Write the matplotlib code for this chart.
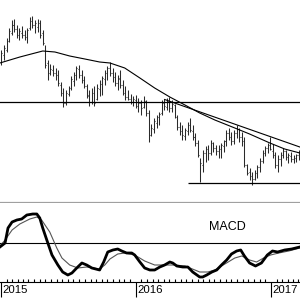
import matplotlib
matplotlib.use("Agg")
import matplotlib.pyplot as plt
import matplotlib.dates as mdates
import matplotlib.transforms as mtransforms
import pandas as pd

plt.rcParams['font.family'] = ['Liberation Sans', 'DejaVu Sans']

# ---------------- data ----------------
bar_start = "2015-01-02"   # weekly bars (Fridays)
highs = [153,158,165,175,183,184,178,175,177,173,175,186,187,183,184,183,173,158,143,139,
         138,135,133,121,115,113,117,127,131,137,138,133,127,119,113,115,117,119,123,127,
         133,137,141,135,131,128,133,123,117,113,109,107,108,105,103,107,103,93,79,85,
         88,91,103,104,105,106,103,99,88,81,78,75,81,85,78,70,63,45,53,57,
         58,63,61,58,58,60,63,73,75,71,73,78,75,71,66,39,35,31,33,38,
         45,53,57,60,66,59,51,48,51,55,53,50,51,48,49,53]
lows = [138,143,151,161,168,171,165,163,165,163,160,173,175,170,171,165,158,135,123,128,
        127,123,117,107,96,98,107,113,117,123,125,120,115,105,97,99,97,103,107,108,
        118,123,127,121,117,113,115,108,103,103,99,97,95,91,88,95,87,61,67,70,
        75,78,88,93,93,91,91,85,73,68,63,63,68,71,63,57,46,21,31,41,
        43,48,51,48,45,45,51,57,63,58,59,65,61,57,36,28,23,18,23,25,
        31,40,47,50,53,45,35,31,37,45,43,40,41,40,41,43]
opens = [140,148,153,162,170,178,174,168,170,168,166,175,182,178,176,180,170,156,140,131,
         133,130,128,118,111,100,109,115,122,128,134,128,123,117,107,101,110,104,114,119,
         124,130,135,130,126,120,124,118,110,106,104,101,103,97,100,96,102,90,70,74,
         80,86,90,100,96,102,95,98,86,76,72,67,72,78,72,66,60,44,38,50,
         54,50,59,55,52,54,57,62,70,66,62,70,74,66,62,38,31,27,24,30,
         36,42,50,55,58,52,47,38,44,48,52,46,47,44,45,48]
closes = [150,155,163,172,178,174,168,172,168,170,173,182,178,180,181,168,160,138,130,134,
          130,127,120,110,100,110,115,124,128,135,128,123,117,108,101,110,100,115,120,125,
          130,135,130,125,120,125,118,110,106,104,101,104,97,100,95,104,90,68,75,82,
          86,89,100,97,102,95,99,88,76,72,68,73,78,73,66,60,48,40,50,54,
          50,60,55,52,55,58,62,70,66,62,70,75,66,62,38,30,28,24,30,36,
          42,50,55,58,54,48,38,44,49,52,46,48,44,46,48,50]

ma_dates = ["2014-12-29","2015-02-21","2015-04-24","2015-05-27","2015-07-06","2015-08-16",
            "2015-09-25","2015-10-23","2015-12-02","2016-01-12","2016-02-21","2016-04-02",
            "2016-05-13","2016-06-22","2016-08-02","2016-09-25","2016-11-04","2016-12-29",
            "2017-02-07","2017-03-20"]
ma_values = [140,146,152,151,147,144,141,140,135,125,115,106,98,90,83,75,69,60,54,50]

trend_dates = ["2016-03-19", "2017-03-20"]
trend_values = [103.5, 56]

resistance_level = 101
support_level = 20.5
support_start = "2016-05-21"

macd_dates = ["2014-12-29","2015-01-12","2015-01-20","2015-01-31","2015-02-13","2015-02-26",
              "2015-03-12","2015-03-28","2015-04-08","2015-04-16","2015-04-24","2015-05-05",
              "2015-05-19","2015-06-04","2015-06-17","2015-07-01","2015-07-12","2015-07-25",
              "2015-08-08","2015-08-21","2015-09-04","2015-09-25","2015-10-06","2015-10-17",
              "2015-10-31","2015-11-13","2015-11-24","2015-12-07","2015-12-21","2015-12-29",
              "2016-01-12","2016-01-25","2016-02-08","2016-02-21","2016-03-06","2016-03-19",
              "2016-04-02","2016-04-10","2016-04-21","2016-05-07","2016-05-21","2016-06-03",
              "2016-06-22","2016-06-30","2016-07-11","2016-07-25","2016-08-07","2016-08-20",
              "2016-09-03","2016-09-16","2016-09-30","2016-10-11","2016-10-21","2016-11-04",
              "2016-11-20","2016-12-06","2016-12-22","2017-01-05","2017-01-19","2017-02-07",
              "2017-02-26","2017-03-20"]
macd_values = [-0.4,0.0,1.5,2.1,2.3,2.4,2.8,2.9,2.9,2.5,1.5,0.3,
               -1.2,-2.2,-2.9,-3.2,-3.0,-2.5,-2.0,-2.2,-2.5,-2.7,-1.9,-0.9,
               -0.7,-0.6,-0.8,-1.0,-1.0,-1.2,-1.9,-2.5,-2.7,-2.7,-2.4,-2.2,
               -1.9,-2.0,-2.3,-2.4,-2.4,-2.9,-3.4,-3.4,-3.2,-2.9,-2.7,-2.2,
               -1.7,-1.1,-0.8,-0.7,-1.3,-2.0,-2.3,-2.0,-1.2,-0.8,-0.9,-0.7,
               -0.6,-0.4]

signal_dates = ["2014-12-29","2015-01-12","2015-01-31","2015-02-21","2015-03-20","2015-04-08",
                "2015-04-21","2015-05-13","2015-06-01","2015-06-15","2015-07-06","2015-07-28",
                "2015-08-21","2015-09-25","2015-10-09","2015-10-23","2015-11-13","2015-12-02",
                "2015-12-29","2016-01-25","2016-02-21","2016-03-19","2016-04-15","2016-05-13",
                "2016-06-09","2016-06-22","2016-07-14","2016-08-02","2016-08-29","2016-09-25",
                "2016-10-14","2016-11-04","2016-11-23","2016-12-12","2016-12-31","2017-01-22",
                "2017-02-18","2017-03-20"]
signal_values = [-0.3,0.3,1.3,1.9,2.4,2.6,2.3,1.1,-0.5,-1.5,-2.2,-2.5,
                 -2.4,-2.6,-2.2,-1.6,-1.1,-1.0,-1.2,-1.8,-2.2,-2.2,-2.2,-2.3,
                 -2.7,-2.9,-2.9,-2.7,-2.1,-1.5,-1.3,-1.7,-1.9,-1.5,-1.2,-1.0,
                 -0.8,-0.5]

# ---------------- figure ----------------
fig = plt.figure(figsize=(3, 3), dpi=100)
x_left = pd.Timestamp("2014-12-29 07:00")
x_right = pd.Timestamp("2017-03-20 12:00")

ax = fig.add_axes([0, 97/300, 1, 203/300])
ax.set_xlim(x_left, x_right)
ax.set_ylim(0, 203)

dates = pd.date_range(bar_start, periods=len(highs), freq="7D")
half = pd.Timedelta(days=2.2)
bar_col = "#2a2a2a"
ax.vlines(dates, lows, highs, color=bar_col, lw=0.75)
ax.hlines(opens, dates - half, dates, color=bar_col, lw=0.75)
ax.hlines(closes, dates, dates + half, color=bar_col, lw=0.75)

ax.plot(pd.to_datetime(ma_dates), ma_values, color="black", lw=0.8)
ax.plot(pd.to_datetime(trend_dates), trend_values, color="black", lw=0.8)
ax.axhline(resistance_level, color="black", lw=0.9)
ax.hlines(support_level, pd.Timestamp(support_start), x_right, color="black", lw=0.9)

for s in ["top", "left", "right"]:
    ax.spines[s].set_visible(False)
ax.spines["bottom"].set_color("#a0a0a0")
ax.spines["bottom"].set_linewidth(1.6)
ax.set_xticks([])
ax.set_yticks([])

# MACD panel
mx = fig.add_axes([0, 18/300, 1, 79/300])
mx.set_xlim(x_left, x_right)
mx.set_ylim(-3.9, 4.0)
mx.axhline(0, color="black", lw=0.8)
mx.plot(pd.to_datetime(signal_dates), signal_values, color="#555555", lw=0.8)
mx.plot(pd.to_datetime(macd_dates), macd_values, color="black", lw=2.0)
mx.text(pd.Timestamp("2016-07-17"), 1.6, "MACD", fontsize=9, ha="left", va="center")

for s in ["top", "left", "right"]:
    mx.spines[s].set_visible(False)
mx.spines["bottom"].set_linewidth(0.8)
mx.set_yticks([])
mx.xaxis.set_major_locator(mdates.YearLocator())
mx.xaxis.set_major_formatter(mdates.DateFormatter("%Y"))
mx.xaxis.set_minor_locator(mdates.DayLocator(bymonthday=[1, 16]))
mx.tick_params(axis="x", which="major", direction="out", length=11, width=0.8,
               pad=-8.5, labelsize=8.2)
mx.tick_params(axis="x", which="minor", direction="in", length=2.5, width=0.8)
offset = mtransforms.ScaledTranslation(1.5/100, 0, fig.dpi_scale_trans)
for lab in mx.get_xticklabels():
    lab.set_horizontalalignment("left")
    lab.set_transform(lab.get_transform() + offset)

fig.savefig("out.png", dpi=100)
